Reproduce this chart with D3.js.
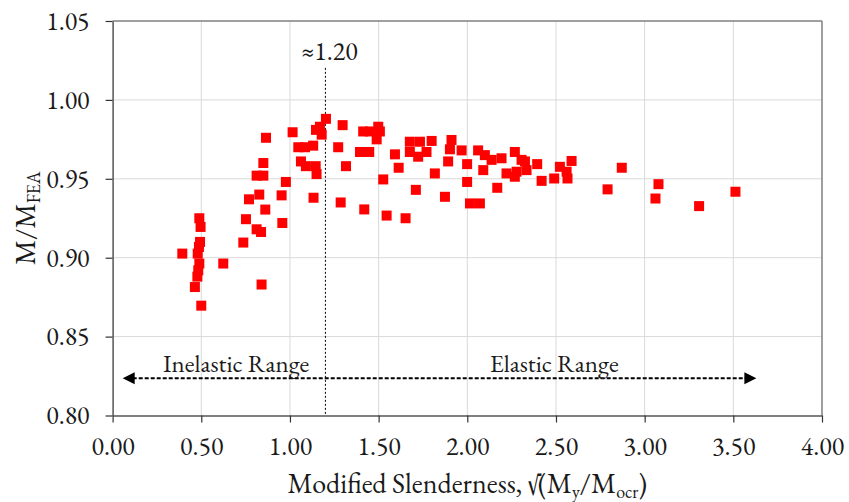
<!DOCTYPE html>
<html><head><meta charset="utf-8">
<script src="https://cdn.jsdelivr.net/npm/d3@7"></script>
</head>
<body style="margin:0;background:#fff"><svg id="c" width="849" height="502" style="display:block"></svg>
<script>
// ---- data ----
const slenderness = [1.203,1.297,1.015,1.147,1.169,1.179,0.865,1.272,1.047,1.085,1.131,0.850,1.062,1.090,1.145,1.150,1.316,0.812,0.850,0.977,0.827,0.769,0.953,1.133,1.286,0.861,0.489,0.496,0.752,0.812,0.837,0.957,0.493,0.487,0.737,0.393,0.480,0.489,0.624,0.483,0.478,0.464,0.840,0.500,
1.413,1.451,1.498,1.507,1.489,1.395,1.447,1.419,1.526,1.592,1.613,1.545,1.652,1.710,1.676,1.733,1.799,1.676,1.723,1.770,1.817,1.874,1.911,1.902,1.968,1.892,1.999,1.999,2.015,2.071,2.061,2.099,2.137,2.090,2.193,2.169,2.221,2.268,2.268,2.306,2.334,
2.325,2.278,2.394,2.419,2.490,2.522,2.560,2.588,2.565,2.791,2.871,3.078,3.061,3.307,3.512];
const ratio = [0.988,0.984,0.9795,0.981,0.983,0.978,0.976,0.970,0.970,0.970,0.971,0.960,0.961,0.958,0.958,0.953,0.958,0.952,0.952,0.948,0.940,0.937,0.9395,0.938,0.935,0.9305,0.925,0.9195,0.9244,0.918,0.9163,0.922,0.910,0.9068,0.9096,0.9026,0.9026,0.8963,0.8963,0.892,0.888,0.8814,0.883,0.8696,
0.980,0.980,0.983,0.980,0.975,0.967,0.967,0.9306,0.9496,0.9655,0.957,0.9267,0.925,0.943,0.9735,0.9735,0.974,0.967,0.964,0.967,0.9534,0.9386,0.9746,0.9687,0.968,0.961,0.9593,0.948,0.9344,0.9344,0.968,0.965,0.962,0.9555,0.963,0.9443,0.9534,0.967,0.9513,0.962,0.9555,
0.961,0.9545,0.9593,0.9487,0.9502,0.9576,0.9545,0.9613,0.9502,0.9433,0.957,0.9466,0.9375,0.9327,0.9418];
const xTicks = [0,0.5,1,1.5,2,2.5,3,3.5,4];
const yTicks = [0.80,0.85,0.90,0.95,1.00,1.05];
const transitionValue = 1.20;
const transitionLabel = "≈1.20";
const inelasticLabel = "Inelastic Range";
const elasticLabel = "Elastic Range";

// ---- layout ----
const FONT = '"EB Garamond","Liberation Serif",serif';
const INK = "#1a1a1a";
const svg = d3.select("#c");
const L = 112.6, R = 822, T = 21, B = 415.5;
const x = d3.scaleLinear().domain([0,4]).range([L,R]);
const y = d3.scaleLinear().domain([0.80,1.05]).range([B,T]);
const fmt = d3.format(".2f");

// grid
const g = svg.append("g");
g.selectAll("line.vg").data(xTicks.slice(1,-1)).join("line").attr("class","vg")
  .attr("x1",d=>x(d)).attr("x2",d=>x(d)).attr("y1",T).attr("y2",B)
  .attr("stroke","#d9d9d9").attr("stroke-width",1);
g.selectAll("line.hg").data(yTicks.slice(1,-1)).join("line").attr("class","hg")
  .attr("x1",L).attr("x2",R).attr("y1",d=>y(d)).attr("y2",d=>y(d))
  .attr("stroke","#d9d9d9").attr("stroke-width",1);
// frame top/right
svg.append("line").attr("x1",L).attr("x2",R).attr("y1",T).attr("y2",T).attr("stroke","#7f7f7f").attr("stroke-width",1.5);
svg.append("line").attr("x1",R).attr("x2",R).attr("y1",T).attr("y2",B).attr("stroke","#7f7f7f").attr("stroke-width",1.5);

// axes
const xAxis = svg.append("g").attr("transform",`translate(0,${B})`)
  .call(d3.axisBottom(x).tickValues(xTicks).tickFormat(fmt).tickSize(7).tickSizeOuter(0).tickPadding(14));
const yAxis = svg.append("g").attr("transform",`translate(${L},0)`)
  .call(d3.axisLeft(y).tickValues(yTicks).tickFormat(fmt).tickSize(7).tickSizeOuter(0).tickPadding(16));
[xAxis,yAxis].forEach(a=>{
  a.attr("font-family",null);
  a.select(".domain").attr("stroke","#555").attr("stroke-width",1.5);
  a.selectAll(".tick line").attr("stroke","#333").attr("stroke-width",1.2);
  a.selectAll(".tick text").attr("fill",INK).style("font-size","26px").style("font-family",FONT);
});

// transition line
svg.append("line").attr("x1",x(transitionValue)).attr("x2",x(transitionValue))
  .attr("y1",y(1.0203)).attr("y2",B).attr("stroke","#000").attr("stroke-width",1).attr("stroke-dasharray","2,2");
svg.append("text").attr("x",x(transitionValue)+4).attr("y",y(1.0254)).attr("text-anchor","middle")
  .attr("fill",INK).style("font-family",FONT).style("font-size","26px").text(transitionLabel);

// range arrow
const ay = y(0.8236);
const xl = x(0.057), xr = x(3.63);
svg.append("line").attr("x1",xl+10).attr("x2",xr-10).attr("y1",ay).attr("y2",ay)
  .attr("stroke","#000").attr("stroke-width",2).attr("stroke-dasharray","4,2");
svg.append("path").attr("d",`M${xl},${ay}L${xl+12},${ay-6}L${xl+12},${ay+6}Z`).attr("fill","#000");
svg.append("path").attr("d",`M${xr},${ay}L${xr-12},${ay-6}L${xr-12},${ay+6}Z`).attr("fill","#000");
svg.append("text").attr("x",x(0.697)).attr("y",y(0.8278)).attr("text-anchor","middle")
  .attr("fill",INK).style("font-family",FONT).style("font-size","25px").text(inelasticLabel);
svg.append("text").attr("x",x(2.49)).attr("y",y(0.8278)).attr("text-anchor","middle")
  .attr("fill",INK).style("font-family",FONT).style("font-size","25px").text(elasticLabel);

// points
const s = 10;
svg.append("g").selectAll("rect").data(slenderness.map((v,i)=>[v,ratio[i]])).join("rect")
  .attr("x",d=>x(d[0])-s/2).attr("y",d=>y(d[1])-s/2).attr("width",s).attr("height",s)
  .attr("fill","#ff0000");

// axis titles
const xt = svg.append("text").attr("x",(L+R)/2).attr("y",493).attr("text-anchor","middle")
  .attr("fill",INK).style("font-family",FONT).style("font-size","28px");
xt.append("tspan").text("Modified Slenderness, √(M");
xt.append("tspan").attr("dy",5).style("font-size","18px").text("y");
xt.append("tspan").attr("dy",-5).text("/M");
xt.append("tspan").attr("dy",5).style("font-size","18px").text("ocr");
xt.append("tspan").attr("dy",-5).text(")");

const yt = svg.append("text").attr("transform",`translate(35,${(T+B)/2}) rotate(-90)`).attr("text-anchor","middle")
  .attr("fill",INK).style("font-family",FONT).style("font-size","28px");
yt.append("tspan").text("M/M");
yt.append("tspan").attr("dy",5).style("font-size","18px").text("FEA");
</script></body></html>
